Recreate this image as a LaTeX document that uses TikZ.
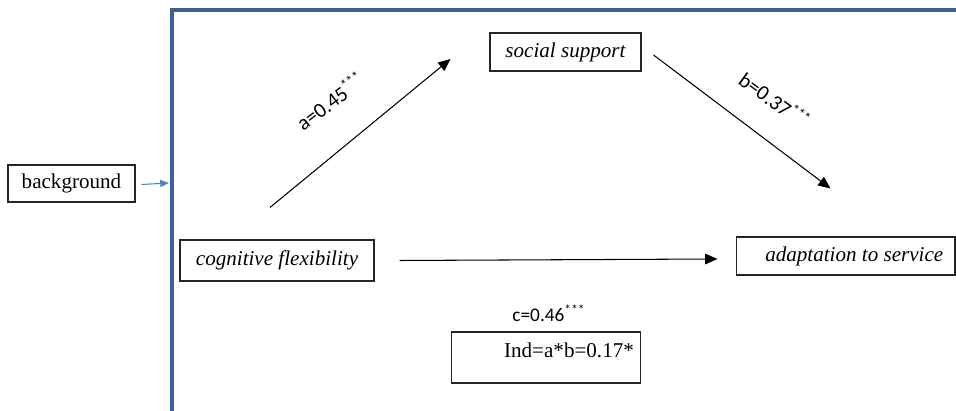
\documentclass[tikz,border=0pt]{standalone}
\usepackage{fontspec}
\setmainfont{Liberation Serif}
\newfontfamily\calib{Carlito}
\usetikzlibrary{arrows.meta}
\definecolor{framecol}{RGB}{62,98,148}
\definecolor{linkcol}{RGB}{79,129,189}
\begin{document}
\begin{tikzpicture}[x=0.02cm,y=0.02cm,
  box/.style={draw=black!85,line width=0.6pt,inner sep=0pt,font=\fontsize{12}{14}\selectfont},
  arr/.style={-{Triangle[length=7pt,width=6pt]},line width=0.6pt},
  coef/.style={font=\calib\fontsize{12}{14}\selectfont}]
\useasboundingbox (0,0) rectangle (956,411);
\draw[framecol,line width=2.1pt] (172,0) -- (172,401) -- (956,401);
\node[box,minimum width=2.54cm,minimum height=0.74cm] (bg) at (71.5,227.5) {background};
\node[box,minimum width=3.02cm,minimum height=0.76cm] (soc) at (565.5,359) {\itshape social support};
\node[box,minimum width=3.88cm,minimum height=0.82cm] (cog) at (277,150.5) {\itshape cognitive flexibility};
\node[box,minimum width=4.38cm,minimum height=0.76cm] (adap) at (845.5,155) {\hspace{0.35cm}\itshape adaptation to service};
\node[box,minimum width=3.78cm,minimum height=1.02cm] (ind) at (546,53.5) {};
\node[inner sep=0pt,font=\fontsize{12}{14}\selectfont] (indtxt) at (569,61) {Ind=a*b=0.17*};
% paths
\draw[-{Triangle[length=5pt,width=4pt]},linkcol,line width=0.6pt] ([shift={(6,-1)}]bg.east) -- (169,228);
\draw[arr] ([shift={(-7,32)}]cog.north) -- ([shift={(-39,-7)}]soc.west);
\draw[arr] ([shift={(12,-3)}]soc.east) -- ([shift={(-15,48)}]adap.north);
\draw[arr] ([shift={(25,0)}]cog.east) -- ([shift={(-18,-3)}]adap.west);
% coefficients
\node[coef,rotate=37] (la) at (330,310) {a=0.45\textsuperscript{***}};
\node[coef,rotate=-36] (lb) at (775,311) {b=0.37\textsuperscript{***}};
\node[coef,font=\calib\fontsize{11}{13}\selectfont] (lc) at (549,98) {c=0.46\textsuperscript{***}};
\end{tikzpicture}
\end{document}
